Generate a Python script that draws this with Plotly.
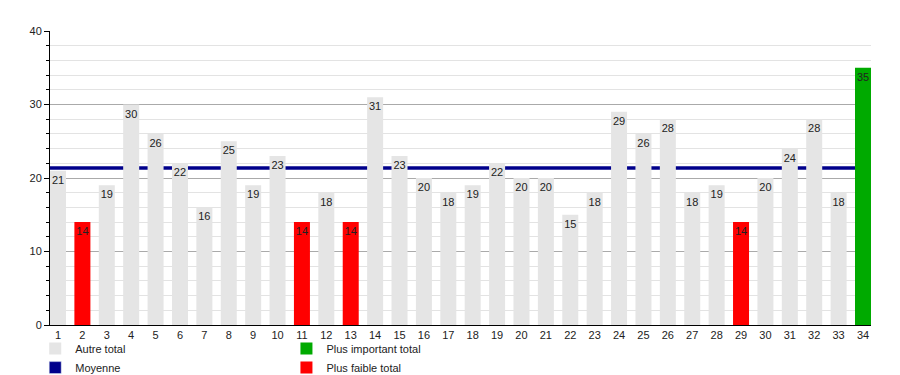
import plotly.graph_objects as go

categories = [str(i) for i in range(1, 35)]
values = [21, 14, 19, 30, 26, 22, 16, 25, 19, 23, 14, 18, 14, 31, 23, 20, 18,
          19, 22, 20, 20, 15, 18, 29, 26, 28, 18, 19, 14, 20, 24, 28, 18, 35]
y_ticks = [0, 10, 20, 30, 40]

GRAY = "#e5e5e5"
GREEN = "#00aa00"
RED = "#ff0000"
NAVY = "#00008b"

xs = list(range(1, len(values) + 1))
vmax, vmin = max(values), min(values)
mean = sum(values) / len(values)

def pick(cond):
    return [v if cond(v) else None for v in values]

def labels(cond):
    return [str(v) if cond(v) else "" for v in values]

W = 0.656
bar_common = dict(width=W, marker_line_width=0, textposition="inside",
                  insidetextanchor="end", constraintext="none",
                  insidetextfont=dict(size=11, color="#222"), textangle=0,
                  hoverinfo="x+y")

fig = go.Figure()
c_other = lambda v: vmin < v < vmax
c_max = lambda v: v == vmax
c_min = lambda v: v == vmin
fig.add_trace(go.Bar(x=xs, y=pick(c_other), text=labels(c_other), marker_color=GRAY,
                     name="Autre total", legend="legend", **bar_common))
fig.add_trace(go.Bar(x=[None], y=[None], marker_color=NAVY, name="Moyenne", legend="legend"))
fig.add_trace(go.Bar(x=xs, y=pick(c_max), text=labels(c_max), marker_color=GREEN,
                     name="Plus important total", legend="legend2", **bar_common))
fig.add_trace(go.Bar(x=xs, y=pick(c_min), text=labels(c_min), marker_color=RED,
                     name="Plus faible total", legend="legend2", **bar_common))

fig.add_shape(type="line", xref="paper", x0=0, x1=1, yref="y", y0=mean, y1=mean,
              line=dict(color=NAVY, width=3.5), layer="between")

# page body has an 8px margin; size the figure so it fits the 900x375 window
fig.update_layout(
    width=892, height=367,
    margin=dict(l=42, r=29, t=23, b=50, autoexpand=False),
    paper_bgcolor="white", plot_bgcolor="white",
    barmode="overlay",
    font=dict(family="Liberation Sans, Arial, sans-serif", size=11, color="#222"),
    xaxis=dict(range=[1 - W / 2, 34 + W / 2], tickvals=xs, ticktext=categories,
               showgrid=False, zeroline=False, showline=True, linecolor="black",
               linewidth=1, ticks="", tickfont=dict(size=11)),
    yaxis=dict(range=[0, 40], tickvals=y_ticks, showgrid=True, gridcolor="#aaaaaa",
               zeroline=False, showline=True, linecolor="black", linewidth=1,
               ticks="outside", ticklen=5, tickcolor="black",
               minor=dict(dtick=2, showgrid=True, gridcolor="#e3e3e3",
                          ticks="outside", ticklen=3, tickcolor="black")),
    legend=dict(x=-0.018, y=-0.031, xanchor="left", yanchor="top", orientation="v",
                font=dict(size=11), tracegroupgap=0, itemwidth=30, bgcolor="rgba(0,0,0,0)"),
    legend2=dict(x=0.288, y=-0.031, xanchor="left", yanchor="top", orientation="v",
                 font=dict(size=11), tracegroupgap=0, itemwidth=30, bgcolor="rgba(0,0,0,0)"),
)

fig.write_html("out.html")
